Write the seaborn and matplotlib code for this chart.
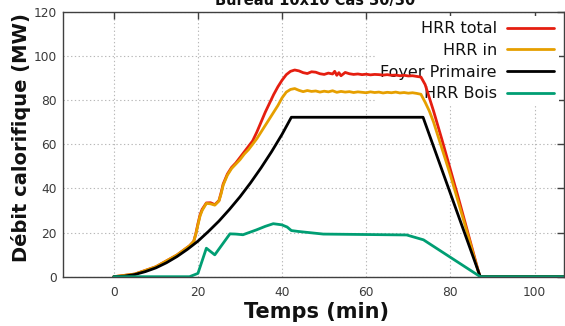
import numpy as np
import pandas as pd
import matplotlib
matplotlib.use("Agg")
import matplotlib.pyplot as plt
import seaborn as sns

# ---------------- data ----------------
title = "Bureau 10x10 Cas 30/30"
series_names = ["HRR total", "HRR in", "Foyer Primaire", "HRR Bois"]

t_total = [0, 5, 10, 15, 18, 19, 19.5, 20, 20.5, 21, 22, 23, 24, 25, 25.5, 26, 27, 28, 29, 30,
           31, 32, 33, 34, 35, 36, 37, 38, 39, 40, 41, 42, 43, 44, 45, 46, 47, 48, 49, 50,
           51, 52, 52.5, 53, 53.5, 54, 55, 56, 57, 58, 59, 60, 61, 62, 63, 64, 65, 66, 67, 68,
           69, 70, 71, 72, 73, 74, 75, 76, 78, 80, 82, 84, 86, 87, 107]
v_total = [0, 1.2, 4.5, 9.8, 14, 16, 19.5, 24, 28, 30.5, 33.4, 33.5, 32.6, 34.5, 38, 42, 46.5, 49.5, 51.5, 54,
           56.5, 59, 61.5, 65.5, 70, 74.5, 78.5, 82.5, 86, 89, 91.5, 93.0, 93.6, 93.2, 92.4, 92.0, 92.8, 92.6, 91.9, 91.6,
           92.2, 91.8, 93.0, 91.2, 92.4, 91.0, 92.5, 91.9, 91.6, 91.8, 91.5, 91.7, 91.4, 91.6, 91.5, 91.3, 91.5, 91.2, 91.3, 91.0,
           91.2, 90.9, 91.0, 90.7, 90.4, 87, 81, 75, 62, 48.5, 35, 21, 7, 0, 0]

t_in = [0, 5, 10, 15, 18, 19, 19.5, 20, 20.5, 21, 22, 23, 24, 25, 25.5, 26, 27, 28, 29, 30,
        31, 32, 33, 34, 35, 36, 37, 38, 39, 40, 41, 42, 43, 44, 45, 46, 47, 48, 49, 50,
        51, 52, 53, 54, 55, 56, 57, 58, 59, 60, 61, 62, 63, 64, 65, 66, 67, 68, 69, 70,
        71, 72, 73, 74, 75, 76, 78, 80, 82, 84, 86, 87, 107]
v_in = [0, 1.2, 4.5, 9.8, 14, 16, 19.3, 23.5, 27.5, 30, 33.2, 33.0, 32.4, 34.3, 37.5, 41.5, 46, 49, 51, 53,
        55.5, 57.5, 60, 62.5, 65.5, 68.5, 71.5, 74.5, 77.5, 81, 83.6, 84.8, 85.2, 84.4, 83.8, 84.3, 83.9, 84.1, 83.6, 84.0,
        83.7, 84.2, 83.5, 83.9, 83.6, 83.8, 83.4, 83.7, 83.5, 83.3, 83.7, 83.4, 83.6, 83.2, 83.5, 83.3, 83.6, 83.2, 83.4, 83.1,
        83.3, 83.0, 82.6, 79, 75, 70, 58, 46, 33, 20, 6.5, 0, 0]

t_foyer = [0, 2.5, 5, 7.5, 10, 12.5, 15, 17.5, 20, 22.5, 25, 27.5, 30, 32.5, 35, 37.5, 40, 42.2,
           73.5, 87.1, 107]
v_foyer = [0, 0.25, 1.0, 2.3, 4.0, 6.3, 9.1, 12.4, 16.1, 20.5, 25.2, 30.5, 36.2, 42.5, 49.3, 56.6, 64.5, 72.2,
           72.2, 0, 0]

t_bois = [0, 18, 20, 22, 24, 27.6, 29, 30.7, 33.9, 36, 37.9, 39.9, 41.2, 42.2, 43.8, 49.8, 60, 69.6,
          73.6, 87.1, 107]
v_bois = [0, 0, 1.5, 12.9, 9.9, 19.4, 19.3, 19.0, 21.2, 22.8, 24.0, 23.5, 22.5, 20.9, 20.5, 19.3, 19.1, 18.9,
          16.7, 0, 0]

xticks = [0, 20, 40, 60, 80, 100]
yticks = [0, 20, 40, 60, 80, 100, 120]
colors = ["#e51e10", "#e69f00", "#000000", "#009e73"]

# ---------------- long-form table ----------------
frames = []
for name, tt, vv in zip(series_names, [t_total, t_in, t_foyer, t_bois],
                        [v_total, v_in, v_foyer, v_bois]):
    frames.append(pd.DataFrame({"t": tt, "v": vv, "serie": name}))
df = pd.concat(frames, ignore_index=True)

sns.set_theme(style="white")
plt.rcParams["font.family"] = ["DejaVu Sans"]

fig = plt.figure(figsize=(5.65, 3.26), dpi=100)
ax = fig.add_axes([63.3 / 565, 1 - 276.7 / 326, (564 - 63.3) / 565, (276.7 - 11.7) / 326])

sns.lineplot(data=df, x="t", y="v", hue="serie", hue_order=series_names,
             palette=dict(zip(series_names, colors)), sort=False, estimator=None,
             linewidth=2.0, ax=ax, legend=False)

ax.set_xlim(-12, 107)
ax.set_ylim(0, 120)
ax.set_xticks(xticks)
ax.set_yticks(yticks)
ax.set_xlabel("")
ax.set_ylabel("")

ax.grid(True, color="#b8b8b8", linestyle=(0, (1.2, 2.2)), linewidth=0.8)
ax.set_axisbelow(True)
for s in ax.spines.values():
    s.set_color("#404040")
    s.set_linewidth(1.0)
ax.tick_params(axis="both", direction="in", length=5, width=1.0, color="#404040",
               top=True, right=True, labelsize=8.8, labelcolor="#3a3a3a")
ax.tick_params(axis="x", pad=7)
ax.tick_params(axis="y", pad=4.5)

handles = ax.get_lines()[:4]
leg = ax.legend(handles, series_names, loc="upper right", markerfirst=False,
                fontsize=11.5, frameon=True, facecolor="white", edgecolor="none",
                framealpha=1.0, fancybox=False, handlelength=3.0, handletextpad=0.6,
                labelspacing=0.42, borderpad=0.3, borderaxespad=0.3)
leg.set_zorder(1.5)
for t in leg.get_texts():
    t.set_color("#111111")

fig.text(315 / 565, 1 - 4.5 / 326, title, ha="center", va="baseline",
         fontsize=10.5, fontweight="bold", color="#111111")
fig.text(21 / 565, 1 - 138 / 326, "Débit calorifique (MW)", rotation=90,
         ha="center", va="center", fontsize=14, fontweight="bold", color="#111111")
fig.text(317 / 565, 1 - 318.5 / 326, "Temps (min)", ha="center", va="baseline",
         fontsize=15, fontweight="bold", color="#111111")

fig.savefig("out.png", dpi=100)
